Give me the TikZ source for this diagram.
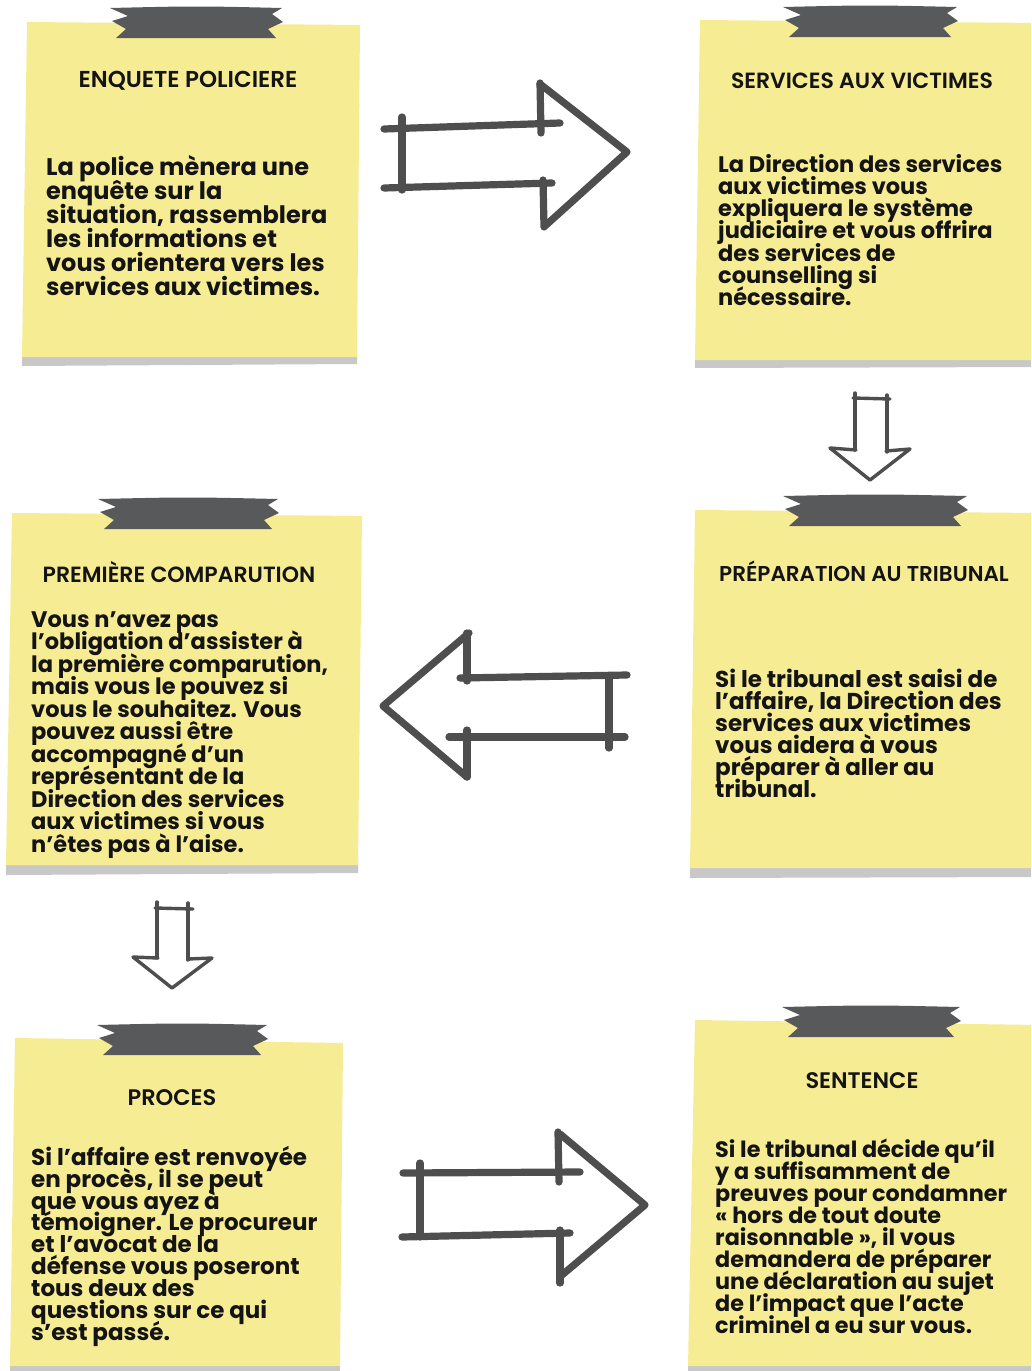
\documentclass[tikz,border=0pt]{standalone}
\usepackage{fontspec}
\newfontfamily\bodyfont{Poppins Bold}
\newfontfamily\titlefont{Poppins SemiBold}
\definecolor{noteyellow}{HTML}{F6EC94}
\definecolor{shadowgray}{HTML}{C8C8C8}
\definecolor{tapegray}{HTML}{58595B}
\definecolor{arrowgray}{HTML}{4E4E4E}
\definecolor{inkblack}{HTML}{141414}
\newcommand\tapestrip[3]{%
  \fill[tapegray] (#1,#3) -- ({#1+18},{#3+8}) -- ({#1+2},{#3+13}) -- ({#1+16},{#3+21}) -- ({#1+6},{#3+30})
    -- ({#2-6},{#3+30}) -- ({#2-14},{#3+21}) -- ({#2+1},{#3+14}) -- ({#2-10},{#3+6}) -- (#2,#3)
    .. controls ({(#1+#2)/2},{#3-2}) .. (#1,#3) -- cycle;}
\newcommand\tightlines{\lineskiplimit=-60pt\relax\lineskip=0pt\relax}
\tikzset{
  notefill/.style={fill=noteyellow},
  notebase/.style={fill=shadowgray},
  sketch/.style={draw=arrowgray, line width=7.2pt, line cap=round, line join=round},
  thinsketch/.style={draw=arrowgray, line width=3.4pt, line cap=round, line join=round},
  titletext/.style={font={\titlefont\fontsize{#1}{24}\selectfont}, text=inkblack, inner sep=0pt, anchor=base},
  bodytext/.style 2 args={font={\bodyfont\fontsize{#1}{#2}\selectfont\tightlines}, text=inkblack, inner sep=0pt, anchor=north west, align=left},
}
\newcommand\fl{\rule{0pt}{22pt}}
\begin{document}
\begin{tikzpicture}[x=1pt,y=-1pt]
\useasboundingbox (0,0) rectangle (1031,1371);
\clip (0,0) rectangle (1031,1371);
\fill[white] (0,0) rectangle (1031,1371);

% ---------- notes ----------
% note 1
\path[notebase] (22,350) -- (357,350) -- (357,364) -- (22,366) -- cycle;
\path[notefill] (27,22) -- (360,25) -- (357,357) -- (22,357) -- cycle;
\tapestrip{110}{282}{8}
% note 2
\path[notebase] (695,352) -- (1040,352) -- (1040,367) -- (695,368) -- cycle;
\path[notefill] (700,20) -- (1040,23) -- (1040,360) -- (695,360) -- cycle;
\tapestrip{783}{957}{7}
% note 3
\path[notebase] (6,855) -- (358,855) -- (358,873) -- (6,875) -- cycle;
\path[notefill] (12,513) -- (362,516) -- (358,865) -- (6,865) -- cycle;
\tapestrip{98}{278}{499}
% note 4
\path[notebase] (690,860) -- (1040,860) -- (1040,877) -- (690,878) -- cycle;
\path[notefill] (695,510) -- (1040,513) -- (1040,868) -- (690,868) -- cycle;
\tapestrip{783}{967}{496}
% note 5
\path[notebase] (10,1360) -- (340,1360) -- (340,1380) -- (10,1380) -- cycle;
\path[notefill] (15,1038) -- (343,1043) -- (340,1366) -- (10,1366) -- cycle;
\tapestrip{97}{267}{1025}
% note 6
\path[notebase] (688,1360) -- (1040,1360) -- (1040,1380) -- (688,1380) -- cycle;
\path[notefill] (695,1020) -- (1040,1025) -- (1040,1366) -- (688,1366) -- cycle;
\tapestrip{782}{960}{1007}

% ---------- titles ----------
\node[titletext=23] (t1) at (188,87) {ENQUETE POLICIERE};
\node[titletext=22] (t2) at (862,88) {SERVICES AUX VICTIMES};
\node[titletext=22] (t3) at (179,582) {PREMIÈRE COMPARUTION};
\node[titletext=21.5] (t4) at (864,581) {PRÉPARATION AU TRIBUNAL};
\node[titletext=22.5] (t5) at (172,1105) {PROCES};
\node[titletext=22.5] (t6) at (862,1088) {SENTENCE};

% ---------- bodies ----------
\node[bodytext={24}{24}] (b1) at (46,153) {\fl La police mènera une\\enquête sur la\\situation, rassemblera\\les informations et\\vous orientera vers les\\services aux victimes.};
\node[bodytext={22.5}{22.2}] (b2) at (718,150) {\fl La Direction des services\\aux victimes vous\\expliquera le système\\judiciaire et vous offrira\\des services de\\counselling si\\nécessaire.};
\node[bodytext={22.5}{22.5}] (b3) at (31,605) {\fl Vous n’avez pas\\l’obligation d’assister à\\la première comparution,\\mais vous le pouvez si\\vous le souhaitez. Vous\\pouvez aussi être\\accompagné d’un\\représentant de la\\Direction des services\\aux victimes si vous\\n’êtes pas à l’aise.};
\node[bodytext={23}{22}] (b4) at (715,665) {\fl Si le tribunal est saisi de\\l’affaire, la Direction des\\services aux victimes\\vous aidera à vous\\préparer à aller au\\tribunal.};
\node[bodytext={23}{21.9}] (b5) at (31,1143) {\fl Si l’affaire est renvoyée\\en procès, il se peut\\que vous ayez à\\témoigner. Le procureur\\et l’avocat de la\\défense vous poseront\\tous deux des\\questions sur ce qui\\s’est passé.};
\node[bodytext={22.3}{22}] (b6) at (715,1135) {\fl Si le tribunal décide qu’il\\y a suffisamment de\\preuves pour condamner\\« hors de tout doute\\raisonnable », il vous\\demandera de préparer\\une déclaration au sujet\\de l’impact que l’acte\\criminel a eu sur vous.};

% ---------- arrows ----------
% right arrow 1
\draw[sketch] (384,129) -- (560,123);
\draw[sketch] (384,188) -- (552,183);
\draw[sketch] (402,117) -- (402,190);
\draw[sketch] (540,83) -- (541,133);
\draw[sketch] (543,180) -- (544,227);
\draw[sketch] (540,84) -- (627,152) -- (545,226);
% left arrow
\draw[sketch] (460,678) -- (627,675);
\draw[sketch] (449,737) -- (625,737);
\draw[sketch] (609,678) -- (609,748);
\draw[sketch] (467,633) -- (467,681);
\draw[sketch] (467,730) -- (467,777);
\draw[sketch] (469,633) -- (383,706) -- (467,777);
% right arrow 2
\draw[sketch] (403,1173) -- (580,1172);
\draw[sketch] (402,1237) -- (570,1233);
\draw[sketch] (420,1163) -- (420,1237);
\draw[sketch] (558,1132) -- (559,1182);
\draw[sketch] (560,1230) -- (560,1283);
\draw[sketch] (560,1134) -- (645,1205) -- (562,1275);
% down arrow 1
\draw[thinsketch] (855,393) -- (855,450);
\draw[thinsketch] (887,395) -- (887,452);
\draw[thinsketch] (853,398) -- (890,399);
\draw[thinsketch] (856,450) -- (830,448) -- (870,480) -- (910,449) -- (886,451);
% down arrow 2
\draw[thinsketch] (157,902) -- (157,958);
\draw[thinsketch] (188,903) -- (188,960);
\draw[thinsketch] (155,908) -- (193,909);
\draw[thinsketch] (158,958) -- (133,957) -- (172,988) -- (212,958) -- (188,959);
\end{tikzpicture}
\end{document}
